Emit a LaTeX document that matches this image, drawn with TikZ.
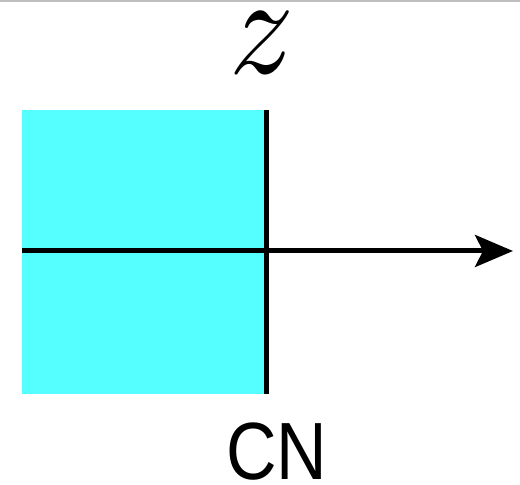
\documentclass[tikz,border=0pt]{standalone}
\usepackage{fontspec}
\newfontfamily\labelfont{Liberation Sans}
\usepackage{tikz}
\usetikzlibrary{arrows.meta,positioning}
\definecolor{paleaqua}{RGB}{85,255,255}
\definecolor{framegray}{RGB}{190,190,190}
\tikzset{
  celda/.style={
    fill=paleaqua,
    draw=none
  },
  eje/.style={
    line width=2.5pt,
    black
  },
  arrow/.style={
    -{Stealth[length=19pt,width=16pt,inset=4pt]},
    line width=2.5pt,
    black
  },
  etiqueta/.style={
    inner sep=0pt,
    font=\labelfont\fontsize{35}{40}\selectfont
  }
}
\begin{document}
\begin{tikzpicture}[x=0.5pt,y=-0.5pt]
\useasboundingbox (0,0) rectangle (520,485);
\draw[framegray, line width=1pt] (0,1) -- (520,1);
\fill[celda] (22,110) rectangle (266,394);
\coordinate (top) at (266,110);
\coordinate (bottom) at (266,394);
\coordinate (west) at (22,251);
\coordinate (east) at (513,251);
\node[inner sep=0pt] (zeta) at (262,43) {\scalebox{6.4}[7.1]{$z$}};
\node[etiqueta] (cn) at (277,452) {\scalebox{1}[1.16]{CN}};
\draw[eje] (top) -- (bottom);
\draw[arrow] (west) -- (east);
\end{tikzpicture}
\end{document}
